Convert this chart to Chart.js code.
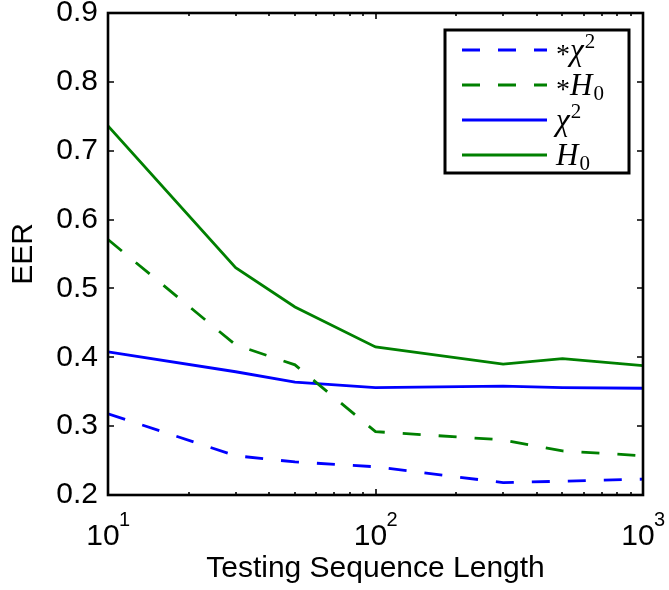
<!DOCTYPE html>
<html>
<head>
<meta charset="utf-8">
<script src="https://cdn.jsdelivr.net/npm/chart.js@4.4.1/dist/chart.umd.min.js"></script>
<style>
  html, body { margin: 0; padding: 0; background: #fff; }
  #wrap { width: 669px; height: 590px; }
</style>
</head>
<body>
<div id="wrap"><canvas id="eer" width="669" height="590"></canvas></div>
<script>
// ── EER vs. testing sequence length ───────────────────────

const seqLengths = [10, 30, 50, 100, 300, 500, 1000];
const chiStar = [0.318, 0.257, 0.248, 0.241, 0.218, 0.220, 0.223];
const h0Star  = [0.571, 0.418, 0.389, 0.292, 0.280, 0.264, 0.257];
const chi     = [0.408, 0.379, 0.364, 0.356, 0.358, 0.356, 0.355];
const h0      = [0.736, 0.530, 0.473, 0.415, 0.390, 0.398, 0.388];

const yTicks = [0.2, 0.3, 0.4, 0.5, 0.6, 0.7, 0.8, 0.9];
const xMajor = [10, 100, 1000];

const BLUE = "#0000ff";
const GREEN = "#008000";
const DASH = [18, 18];

const SANS = "'Liberation Sans', Arial, sans-serif";
const SERIF = "'Liberation Serif', 'Times New Roman', serif";

const toPoints = (ys) => ys.map((y, i) => ({ x: seqLengths[i], y }));

// legend text pieces: [text, style, baseline shift]
const legendLabels = [
  [["*", "up", 0], ["\u03c7", "it", 0], ["2", "sup", -12]],
  [["*", "up", 0], ["H", "it", 0], ["0", "sub", 5]],
  [["\u03c7", "it", 0], ["2", "sup", -12]],
  [["H", "it", 0], ["0", "sub", 5]],
];

// box frame + inward tick marks, MATLAB style
const frameTicks = {
  id: "frameTicks",
  afterDatasetsDraw(chart) {
    const { ctx, chartArea: a, scales: { x, y } } = chart;
    ctx.save();
    ctx.strokeStyle = "#000";
    ctx.lineWidth = 1.6;
    ctx.beginPath();
    yTicks.forEach((v) => {
      const py = Math.round(y.getPixelForValue(v));
      ctx.moveTo(a.left, py); ctx.lineTo(a.left + 6, py);
      ctx.moveTo(a.right, py); ctx.lineTo(a.right - 6, py);
    });
    for (let d = 10; d < 1000; d *= 10) {
      for (let m = 1; m <= 10; m++) {
        const px = Math.round(x.getPixelForValue(d * m));
        const len = m === 1 || m === 10 ? 6 : 3;
        ctx.moveTo(px, a.bottom); ctx.lineTo(px, a.bottom - len);
        ctx.moveTo(px, a.top); ctx.lineTo(px, a.top + len);
      }
    }
    ctx.stroke();
    ctx.lineWidth = 2.6;
    ctx.strokeRect(a.left, a.top, a.right - a.left, a.bottom - a.top);

    // decade exponents next to the "10" tick labels
    ctx.fillStyle = "#000";
    ctx.textBaseline = "alphabetic";
    ctx.textAlign = "left";
    xMajor.forEach((v) => {
      const px = x.getPixelForValue(v);
      ctx.font = "20px " + SANS;
      ctx.fillText(String(Math.round(Math.log10(v))), px + 11, a.bottom + 31);
    });
    ctx.restore();
  },
};

const mathLegend = {
  id: "mathLegend",
  afterDraw(chart) {
    const { ctx, chartArea: a } = chart;
    const w = 184, h = 143;
    const bx = a.right - 14 - w, by = a.top + 17;
    ctx.save();
    ctx.fillStyle = "#fff";
    ctx.fillRect(bx, by, w, h);
    ctx.strokeStyle = "#000";
    ctx.lineWidth = 3;
    ctx.strokeRect(bx, by, w, h);

    const fonts = {
      up: "28px " + SERIF,
      it: "italic 31px " + SERIF,
      sup: "21px " + SERIF,
      sub: "21px " + SERIF,
    };
    chart.data.datasets.forEach((ds, i) => {
      const ly = by + 20 + i * 35;
      ctx.strokeStyle = ds.borderColor;
      ctx.lineWidth = ds.borderWidth;
      ctx.setLineDash(ds.borderDash || []);
      ctx.beginPath();
      ctx.moveTo(bx + 17, ly);
      ctx.lineTo(bx + 102, ly);
      ctx.stroke();
      ctx.setLineDash([]);

      let tx = bx + 111;
      ctx.fillStyle = "#000";
      ctx.textBaseline = "alphabetic";
      legendLabels[i].forEach(([t, style, dy]) => {
        ctx.font = fonts[style];
        const shift = style === "up" ? 3 : 0;
        ctx.fillText(t, tx, ly + 10 + dy + shift);
        tx += ctx.measureText(t).width + (style === "it" ? 1 : 0);
      });
    });
    ctx.restore();
  },
};

// keep tick labels from pushing the plot box inward
const noOverhang = (scale) => {
  scale.paddingLeft = 0;
  scale.paddingRight = 0;
  scale.paddingTop = 0;
  scale.paddingBottom = 0;
};

Chart.defaults.font.family = SANS;
Chart.defaults.color = "#000";

new Chart(document.getElementById("eer"), {
  type: "line",
  data: {
    datasets: [
      { label: "*\u03c7\u00b2", data: toPoints(chiStar), borderColor: BLUE, borderDash: DASH },
      { label: "*H\u2080", data: toPoints(h0Star), borderColor: GREEN, borderDash: DASH },
      { label: "\u03c7\u00b2", data: toPoints(chi), borderColor: BLUE },
      { label: "H\u2080", data: toPoints(h0), borderColor: GREEN },
    ].map((d) => ({ ...d, borderWidth: 2.8, pointRadius: 0, fill: false, tension: 0 })),
  },
  options: {
    responsive: false,
    animation: false,
    layout: { padding: { top: 13, right: 26, left: 0, bottom: 0 } },
    plugins: {
      legend: { display: false },
      tooltip: { enabled: false },
    },
    scales: {
      x: {
        type: "logarithmic",
        min: 10,
        max: 1000,
        grid: { display: false },
        border: { display: false },
        afterBuildTicks: (scale) => {
          scale.ticks = xMajor.map((v) => ({ value: v, major: true }));
        },
        afterFit: (scale) => {
          scale.height = 95;
          noOverhang(scale);
        },
        ticks: {
          font: { size: 30 },
          padding: 16,
          maxRotation: 0,
          autoSkip: false,
          // shift "10" left so the base plus exponent sits centred on the tick
          labelOffset: -5,
          callback: () => "10",
        },
        title: {
          display: true,
          text: "Testing Sequence Length",
          font: { size: 30 },
          padding: { top: 0, bottom: 3 },
        },
      },
      y: {
        min: 0.2,
        max: 0.9,
        grid: { display: false, drawTicks: false },
        border: { display: false },
        afterBuildTicks: (scale) => {
          scale.ticks = yTicks.map((v) => ({ value: v }));
        },
        afterFit: (scale) => {
          scale.width = 108;
          noOverhang(scale);
        },
        ticks: {
          font: { size: 30 },
          padding: 10,
          callback: (v) => v.toFixed(1),
        },
        title: {
          display: true,
          text: "EER",
          font: { size: 30 },
          padding: { top: 6, bottom: 0 },
        },
      },
    },
  },
  plugins: [frameTicks, mathLegend],
});
</script>
</body>
</html>
